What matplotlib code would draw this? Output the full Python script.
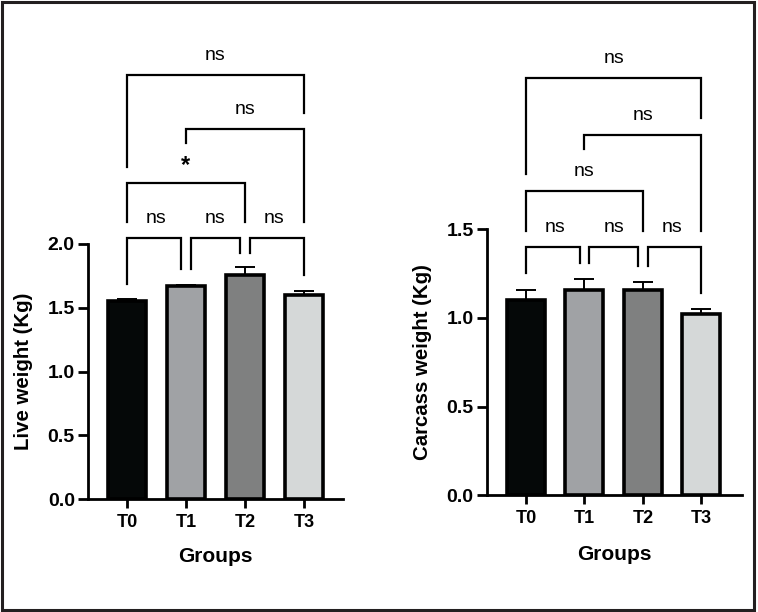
import matplotlib
matplotlib.use("Agg")
import matplotlib.pyplot as plt
from matplotlib.patches import Rectangle

plt.rcParams['font.family'] = ['Liberation Sans', 'DejaVu Sans']

groups = ["T0", "T1", "T2", "T3"]
live_mean = [1.55, 1.67, 1.76, 1.60]
live_err = [0.02, 0.01, 0.06, 0.035]
carcass_mean = [1.10, 1.155, 1.16, 1.02]
carcass_err = [0.06, 0.065, 0.045, 0.03]
bar_colors = ["#050808", "#a0a2a5", "#7f8080", "#d5d8d8"]

# brackets: (left index, right index, bar y, left leg bottom, right leg bottom, label, left shift, right shift)
live_brackets = [
    (0, 3, 3.325, 2.607, 3.025, "ns", 0, 0),
    (1, 3, 2.902, 2.79, 2.175, "ns", 0, 0),
    (0, 2, 2.476, 2.175, 2.175, "*", 0, 0),
    (0, 1, 2.045, 1.69, 1.80, "ns", 0, -1),
    (1, 2, 2.045, 1.80, 1.93, "ns", 1, -1),
    (2, 3, 2.045, 1.93, 1.757, "ns", 1, 0),
]
carcass_brackets = [
    (0, 3, 2.355, 1.812, 2.126, "ns", 0, 0),
    (1, 3, 2.032, 1.953, 1.49, "ns", 0, 0),
    (0, 2, 1.718, 1.49, 1.49, "ns", 0, 0),
    (0, 1, 1.399, 1.256, 1.312, "ns", 0, -1),
    (1, 2, 1.399, 1.312, 1.293, "ns", 1, -1),
    (2, 3, 1.399, 1.293, 1.143, "ns", 1, 0),
]

W, H = 758, 612
fig = plt.figure(figsize=(W / 100, H / 100), dpi=100)
fig.patches.append(Rectangle((1.5 / W, 2.0 / H), 752.5 / W, 608.5 / H,
                             transform=fig.transFigure, fill=False,
                             edgecolor="#231f20", linewidth=2.2))

ax1 = fig.add_axes([88 / W, (H - 499) / H, 255 / W, 255 / H])
ax2 = fig.add_axes([486.7 / W, (H - 495.3) / H, 255 / W, 266 / H])


def panel(ax, means, errs, ylim, yticks, ylabel, brackets, xlim):
    x = list(range(len(groups)))
    ax.bar(x, means, width=0.65, color=bar_colors, edgecolor="black",
           linewidth=2.6, zorder=2,
           yerr=[[0] * len(errs), errs],
           error_kw=dict(ecolor="black", elinewidth=1.4, capsize=7, capthick=1.4, zorder=1))
    ax.set_xlim(*xlim)
    ax.set_ylim(*ylim)
    ax.set_yticks(yticks)
    ax.set_yticklabels([f"{t:.1f}" for t in yticks])
    ax.set_xticks(x)
    ax.set_xticklabels(groups)
    for s in ["top", "right"]:
        ax.spines[s].set_visible(False)
    for s in ["left", "bottom"]:
        ax.spines[s].set_linewidth(2.0)
    ax.tick_params(axis="y", length=7, width=2.0, pad=2.5, labelsize=14)
    ax.tick_params(axis="x", length=6.5, width=2.0, pad=4, labelsize=13)
    for lab in ax.get_xticklabels() + ax.get_yticklabels():
        lab.set_fontweight("bold")
    ax.set_ylabel(ylabel, fontsize=14.7, fontweight="bold")
    ax.set_xlabel("Groups", fontsize=15, fontweight="bold")
    ax.yaxis.set_label_coords(-0.215, 0.5)
    ax.xaxis.set_label_coords(0.5, -0.187)
    off = 0.08
    for (i, j, y, lb, rb, lab, ls, rs) in brackets:
        xl = i + ls * off
        xr = j + rs * off
        ax.plot([xl, xl, xr, xr], [lb, y, y, rb], color="black", lw=1.6,
                clip_on=False, solid_joinstyle="miter", zorder=3)
        if lab == "*":
            ax.annotate(lab, xy=((i + j) / 2, y), xytext=(0, 13), textcoords="offset points",
                        ha="center", va="center", fontsize=17, fontweight="bold",
                        annotation_clip=False)
        else:
            ax.annotate(lab, xy=((i + j) / 2, y), xytext=(0, 14), textcoords="offset points",
                        ha="center", va="center", fontsize=14, annotation_clip=False)


panel(ax1, live_mean, live_err, (0, 2.0), [0.0, 0.5, 1.0, 1.5, 2.0],
      "Live weight (Kg)", live_brackets, (-0.66, 3.66))
panel(ax2, carcass_mean, carcass_err, (0, 1.5), [0.0, 0.5, 1.0, 1.5],
      "Carcass weight (Kg)", carcass_brackets, (-0.67, 3.69))

fig.savefig("out.png", dpi=100)
